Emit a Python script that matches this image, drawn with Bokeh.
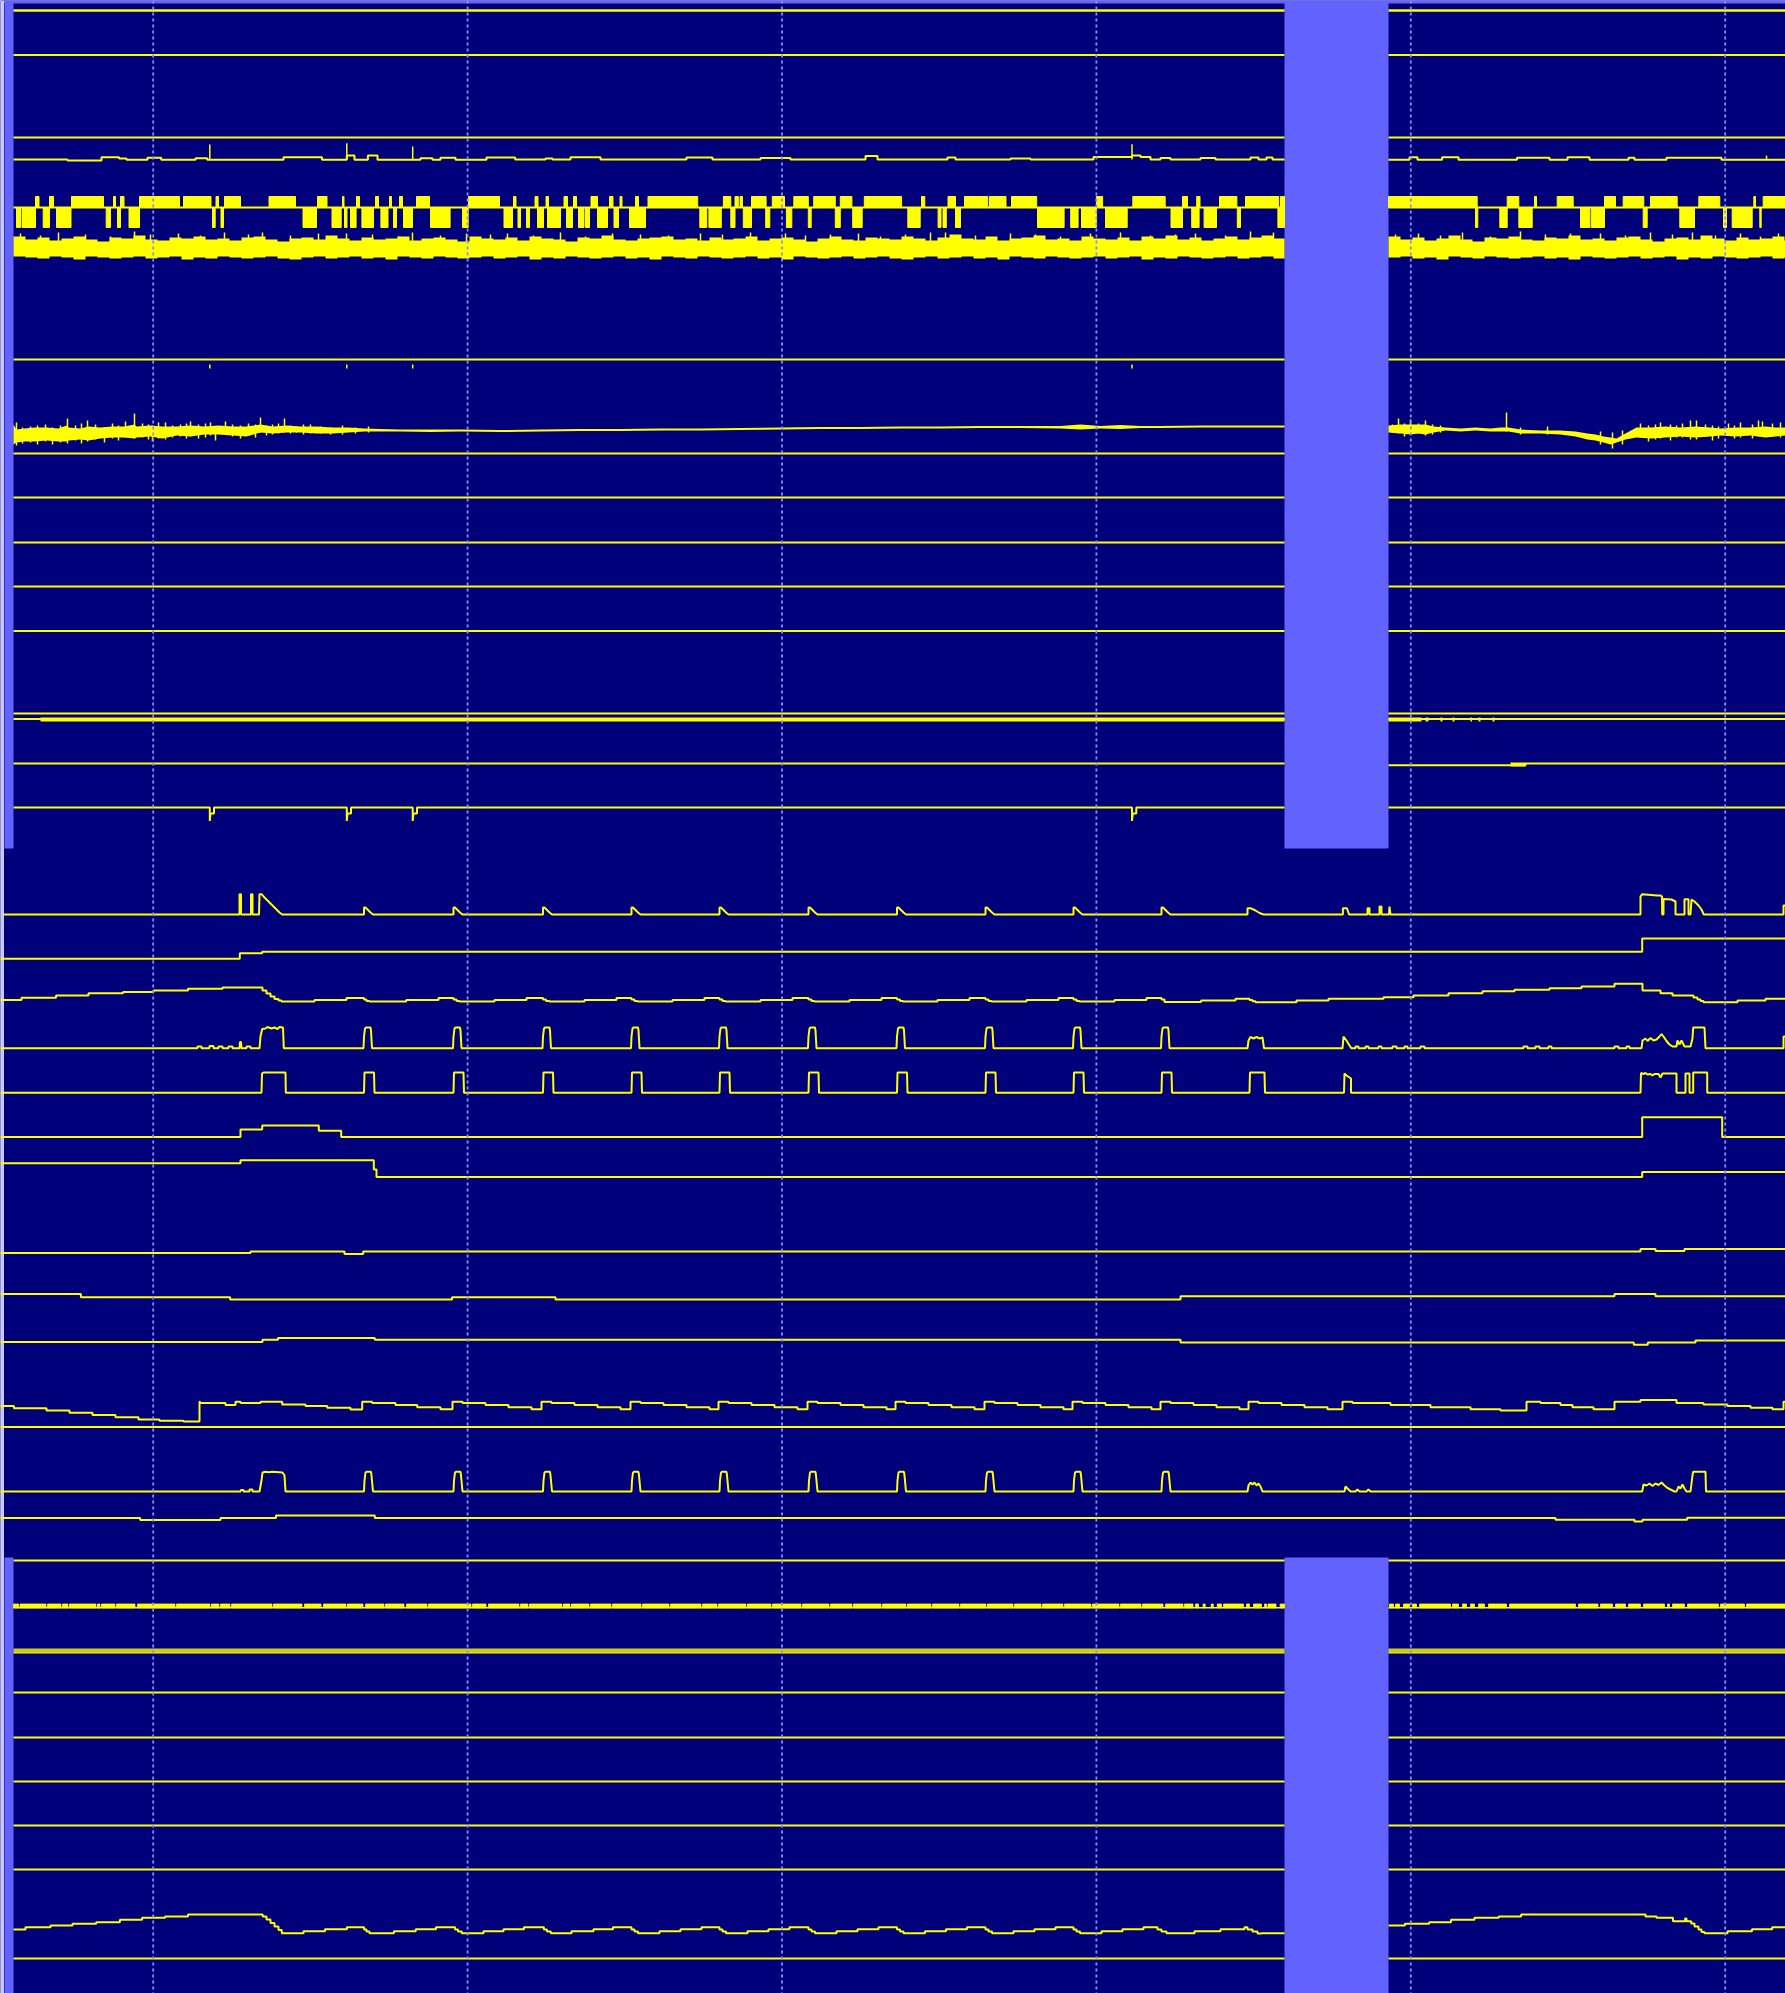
import numpy as np
from bokeh.plotting import figure
from bokeh.models import Range1d, Span
from bokeh.embed import file_html
from bokeh.resources import INLINE

NAVY = "#00007b"
YELLOW = "#ffff00"
GAPC = "#6262ff"
EDGEC = "#c8c8ff"
GRIDC = "#8c8cff"

# ---------------- time axis (s) ----------------
grid_t = [152.7, 467.1, 781.5, 1095.9, 1410.3, 1724.7]
nodata_spans = [(4, 13), (1284, 1388)]          # recording gaps (top & bottom groups)
seg_top = [(13, 1284), (1388, 1785)]             # valid data segments (top & bottom groups)

# ---------------- top group ----------------
top_flat_levels = [10, 54.5, 137, 359, 453, 497, 542, 586, 630.5, 713]

ch4_a = [(13, 159), (67, 160), (101, 156.7), (118.6, 158), (126, 159.3), (147, 157.3), (160.7, 159.3),
         (195, 157.7), (206.7, 159.3), (283, 156.7), (321.5, 159.3), (346.3, 155), (354, 159.3),
         (367.4, 155), (377, 159.3), (420, 157.7), (432, 159.3), (440, 157.3), (455, 159.3), (486, 157),
         (514.7, 159), (545, 158), (552, 159), (570, 156.7), (600, 159), (686, 157), (712, 159),
         (760, 157.5), (790, 159), (865, 155.5), (877, 159), (947, 157), (955, 159), (1010, 158),
         (1030, 159), (1093, 156.5), (1131.5, 155), (1140, 156.5), (1150, 159), (1160, 157.5),
         (1170, 159), (1200, 157.5), (1215, 159), (1250, 157), (1258, 159), (1266, 157), (1272, 159)]
ch4_b = [(1388, 159.3), (1409, 156.7), (1417, 159.3), (1441.6, 156.7), (1458, 159.3), (1516.5, 157.3),
         (1549, 159.3), (1567, 156.7), (1589, 159.3), (1628, 157.3), (1634, 159.3), (1666, 157.3),
         (1721, 159.3)]
ch4_spikes_t = [209.3, 346.3, 412.2, 1131.5, 1766]
ch4_spikes_peak = [144, 142.7, 146, 143.7, 155]

ch5_mid = 207
ch5_high = 196
ch5_low = 227
ch5_up_blocks = [(35, 38.5), (49, 53), (71, 103), (113, 115), (120, 123.5), (139, 179), (183, 210.5),
                 (215.5, 218), (224, 240), (268.5, 295), (317, 326.5), (342, 343.5), (356, 359), (375, 378),
                 (389, 391), (399, 402), (416, 429), (468, 499), (513, 515.5), (534.5, 537.5), (545.5, 548),
                 (563.5, 567), (573, 576), (590.5, 597), (609, 612.5), (619.5, 621.5), (635, 638),
                 (647.5, 697.2), (722.9, 730.3), (734.5, 737.8), (739.5, 742), (751, 765.6), (771.8, 784),
                 (793.3, 807.8), (813.2, 834.8), (839.8, 851.4), (863.8, 901.1), (921, 924.3), (947.5, 955),
                 (964, 987.3), (989, 1005.5), (1011, 1036.2), (1095.9, 1102.1), (1132.3, 1164.7),
                 (1182, 1187), (1196.2, 1199.5), (1219, 1236.4), (1245, 1278.2), (1280, 1284),
                 (1388, 1476.7), (1506.7, 1518.3), (1534, 1536), (1556.7, 1572.7), (1604, 1615),
                 (1622.7, 1643.3), (1650, 1676.7), (1698.3, 1719.3), (1753.3, 1755), (1762.7, 1785)]
ch5_down_blocks = [(16, 20), (21.5, 35), (42.7, 49), (56, 70.5), (105.7, 110), (117, 120), (128.5, 139),
                   (212, 214.7), (220.5, 223), (302.5, 316), (331.5, 340.7), (344, 346.5), (350, 355.6),
                   (361.4, 373), (380.4, 387.5), (393, 396), (403, 412), (430, 449.6), (462, 467.7),
                   (503.5, 512), (517.5, 520), (526, 529), (537, 543), (547, 560), (566, 572), (578, 583.5),
                   (585, 589), (597, 607), (613.5, 618), (629, 645), (699.3, 706.3), (708.4, 720.8),
                   (730.3, 734.5), (742.8, 751), (765.2, 769.3), (785.9, 791.3), (807.8, 810.7),
                   (834.8, 839.8), (852.2, 861.7), (907.3, 919.7), (937.6, 940.5), (942.5, 945.8),
                   (955, 960), (1037, 1063.6), (1070.2, 1077.6), (1081, 1095.9), (1105, 1126.7),
                   (1170.5, 1182), (1191.2, 1198.6), (1203.6, 1216), (1236.8, 1240), (1277.4, 1284),
                   (1475, 1477.3), (1499.3, 1506.7), (1518.3, 1531.7), (1580, 1589.3), (1590.7, 1604),
                   (1642.7, 1646.7), (1679.3, 1694), (1723, 1726), (1731.7, 1751.7), (1759.3, 1760.7)]

ch6_dt = 12
ch6_top_a = [236, 239, 237, 240, 238, 236, 239, 241, 237, 238, 235, 239, 240, 237, 238, 236, 239, 238, 240, 237,
             236, 239, 241, 238, 237, 239, 235, 238, 240, 237, 239, 238, 236, 240, 238, 237, 239, 241, 236, 238,
             239, 237, 240, 236, 238, 239, 241, 237, 238, 235, 239, 240, 238, 237, 236, 239, 238, 240, 237, 239,
             238, 236, 240, 238, 237, 239, 241, 238, 236, 239, 240, 237, 238, 239, 236, 238, 240, 237, 234, 238,
             239, 236, 240, 238, 237, 235, 239, 238, 240, 236, 238, 239, 237, 240, 236, 238, 235, 239, 237, 240,
             238, 236, 239, 237, 235, 238]
ch6_bot_a = [256, 257, 258, 256, 257, 259, 256, 257, 258, 257, 256, 258, 257, 256, 259, 257, 258, 256, 257, 258,
             257, 256, 258, 259, 257, 256, 258, 257, 256, 258, 257, 259, 256, 257, 258, 256, 257, 258, 257, 256,
             258, 257, 256, 259, 257, 258, 256, 257, 258, 257, 256, 258, 257, 259, 256, 257, 258, 256, 257, 258,
             257, 256, 258, 257, 259, 256, 257, 258, 257, 256, 258, 257, 256, 258, 259, 257, 256, 258, 257, 256,
             258, 257, 259, 256, 257, 258, 256, 257, 258, 257, 256, 258, 257, 256, 259, 257, 258, 256, 257, 258,
             257, 256, 258, 257, 256, 258]
ch6_top_b = [236, 239, 237, 240, 238, 235, 239, 241, 237, 238, 236, 239, 240, 237, 238, 235, 239, 238, 240, 237,
             236, 239, 241, 238, 237, 239, 235, 238, 240, 237, 239, 238, 236, 240]
ch6_bot_b = [257, 256, 258, 257, 259, 256, 257, 258, 256, 257, 258, 257, 256, 258, 257, 259, 256, 257, 258, 257,
             256, 258, 257, 256, 259, 257, 258, 256, 257, 258, 257, 256, 258, 257]
ch6_spikes_t = [20, 40, 58, 85, 110, 134, 150, 178, 200, 224, 248, 262, 290, 318, 346, 372, 398, 412, 440, 466,
                490, 507, 533, 560, 585, 612, 640, 668, 700, 722, 750, 785, 805, 830, 858, 880, 905, 930, 945, 975,
                1010, 1035, 1060, 1090, 1120, 1150, 1175, 1195, 1225, 1250, 1273,
                1395, 1418, 1440, 1462, 1490, 1520, 1545, 1570, 1600, 1625, 1650, 1672, 1692, 1715, 1740, 1760, 1778]
ch6_spikes_peak = [233, 235, 232, 234, 236, 231, 234, 233, 235, 232, 234, 232, 235, 233, 233, 234, 236, 232, 235, 233,
                   234, 233, 235, 232, 236, 233, 234, 235, 233, 234, 232, 233, 235, 234, 233, 236, 234, 232, 232, 235,
                   233, 234, 236, 233, 232, 235, 234, 233, 235, 231, 232,
                   234, 233, 235, 232, 236, 231, 234, 233, 233, 235, 232, 234, 232, 235, 233, 236, 233]

ch8_level = 364
ch8_ticks_t = [209.3, 346.3, 412.2, 1131.5]

ch9_t_a = [13, 16, 24, 34, 46, 58, 66, 68, 80, 88, 100, 112, 124, 134, 136, 150, 162, 176, 190, 204,
           218, 232, 246, 260, 272, 286, 300, 316, 332, 348, 364, 380, 400, 430, 460, 500, 540, 580, 620, 660,
           700, 740, 780, 820, 860, 900, 940, 980, 1020, 1060, 1080, 1100, 1120, 1140, 1160, 1200, 1240, 1284]
ch9_hi_a = [424, 429, 428, 427, 427, 428, 425, 427, 428, 426, 427, 426, 426, 424, 426, 425, 426, 426, 425, 426,
            425, 426, 426, 424, 426, 425, 426, 426, 427, 427, 428, 428.5, 429, 429, 429, 429.5, 429, 428.5, 428.5, 428,
            428, 427.5, 427, 426.5, 426.5, 426, 426, 425.5, 425.5, 425.5, 424, 425.5, 424.5, 425.5, 425.5, 425, 425, 425]
ch9_lo_a = [444, 442, 441, 441, 440, 441, 441, 440, 439, 440, 438, 437, 437, 438, 437, 436, 438, 435, 436, 434,
            434, 435, 436, 432, 433, 432, 432, 433, 433, 432, 431, 431, 431, 431.5, 431, 431.5, 431, 430.5, 430.5, 430,
            430, 429.5, 429, 428.5, 428.5, 428, 428, 427.5, 427.5, 428, 429, 428, 428.5, 427.5, 427.5, 427, 427, 427]
ch9_t_b = [1388, 1400, 1410, 1418, 1425, 1433, 1445, 1460, 1475, 1490, 1500, 1506, 1508, 1520, 1540, 1560, 1575,
           1587, 1595, 1603, 1610, 1616, 1625, 1636, 1650, 1665, 1680, 1695, 1710, 1720, 1735, 1750, 1765, 1775, 1785]
ch9_hi_b = [425, 424, 424, 424, 424, 426, 427, 428, 427, 428, 427, 427, 427, 429, 430, 430, 431, 433, 434, 436,
            437, 438, 433, 427, 427, 426, 427, 426, 427, 428, 427, 427, 426, 427, 427]
ch9_lo_b = [432, 433, 434, 433, 434, 432, 430, 431, 430, 431, 431, 431, 431, 433, 433, 434, 436, 439, 440, 442,
            444, 442, 439, 437, 438, 437, 436, 437, 436, 435, 436, 435, 437, 436, 435]
ch9_spikes_t = [16, 22, 30, 37, 45, 52, 60, 67, 75, 81, 87, 95, 104, 112, 118, 125, 134, 142, 148, 152,
                158, 165, 172, 180, 186, 190, 198, 205, 210, 215, 225, 232, 240, 248, 255, 260, 266, 272, 278, 284,
                290, 296, 303, 310, 320, 330, 342, 355, 368,
                1392, 1398, 1404, 1410, 1418, 1425, 1432, 1440, 1506, 1520, 1547, 1600, 1612, 1622, 1640, 1648, 1655,
                1660, 1670, 1676, 1682, 1690, 1696, 1705, 1712, 1718, 1728, 1734, 1740, 1752, 1758, 1762, 1772, 1780]
ch9_spikes_hi = [422, 427, 426, 425, 424, 427, 425, 418, 425, 423, 420, 424, 427, 423, 425, 421, 413, 423, 424, 425,
                 422, 422, 425, 424, 423, 421, 424, 423, 422, 426, 421, 424, 425, 423, 424, 417, 425, 424, 423, 418,
                 425, 426, 424, 424, 426, 427, 425, 427, 426,
                 424, 418, 423, 419, 423, 420, 424, 425, 412, 427, 426, 431, 432, 430, 423, 425, 424,
                 422, 424, 425, 423, 420, 420, 424, 425, 426, 423, 425, 422, 424, 420, 421, 423, 422]
ch9_spikes_lo = [445, 443, 442, 444, 441, 444, 442, 443, 440, 443, 441, 439, 442, 438, 440, 437, 438, 437, 439, 441,
                 438, 439, 437, 436, 438, 436, 438, 437, 435, 440, 434, 436, 438, 435, 437, 432, 435, 434, 433, 432,
                 433, 432, 434, 433, 433, 434, 434, 433, 432,
                 432, 433, 436, 434, 433, 435, 434, 432, 431, 434, 434, 444, 448, 444, 437, 441, 439,
                 438, 440, 437, 437, 439, 439, 436, 440, 438, 435, 438, 437, 438, 436, 435, 436, 437]

ch16_level = 719
ch16_dense = [(40, 1284), (1388, 1421), (1425, 1428), (1440, 1442), (1452, 1454), (1470, 1471.5),
              (1478, 1480), (1492, 1494)]
ch17_a = [(13, 763)]
ch17_b = [(1388, 764.7), (1525, 763)]
ch17_dense = [(1510, 1525)]
ch18_pts = [(13, 807), (209.3, 807), (209.3, 820.5), (210, 813), (213.5, 813), (213.5, 807),
            (346.3, 807), (346.3, 820.5), (347, 813), (350.5, 813), (350.5, 807),
            (412.2, 807), (412.2, 820.5), (413, 813), (416.5, 813), (416.5, 807),
            (1131.5, 807), (1131.5, 820.5), (1132.3, 813), (1135.8, 813), (1135.8, 807), (1284, 807)]

# ---------------- middle group ----------------
pulse_t = [363.5, 453, 542.5, 631, 719, 808, 896.5, 985, 1073, 1161]

chA_head = [(3, 914), (239, 914), (239, 893.7), (240.5, 893.7), (240.5, 914), (250.5, 914), (250.5, 893.7),
            (252, 893.7), (252, 914), (258.5, 914), (259, 893.7), (261, 893.7), (264, 897), (268, 901),
            (272, 905), (276, 909), (279, 912), (281.7, 914)]
chA_bump = [(0, 914), (0, 907), (1.5, 907), (4, 909.5), (6.5, 912), (9, 914)]
chA_tail = [(1247, 914), (1247, 907.7), (1250, 907.7), (1255, 910), (1259, 912.5), (1263, 914),
            (1342.4, 914), (1342.4, 907.7), (1346.5, 907.7), (1348.5, 914), (1367, 914), (1367, 907.7),
            (1369, 907.7), (1369, 914), (1379, 914), (1379, 906), (1381, 906), (1381, 914), (1388.5, 914),
            (1389, 906), (1390, 914), (1640, 914), (1640, 896), (1641.7, 893.7), (1656.7, 895), (1660, 895),
            (1661.5, 896), (1661.7, 914), (1663, 914), (1663, 898.5), (1671, 899), (1675, 901), (1675, 914),
            (1684, 914), (1684, 898.8), (1688, 898.8), (1688, 914), (1690, 914), (1691, 899), (1694, 901),
            (1698, 905), (1701, 909), (1703.3, 914), (1783, 914), (1783, 905), (1785, 905)]

chB = [(0, 958.3), (239.3, 952.8), (261.7, 951.2), (1641.7, 938.1)]

chC = [(0, 999.5), (21, 997.2), (55.5, 995), (88, 992.8), (122.5, 991.4), (153, 990.1), (187.5, 988.3),
       (222, 987), (262, 990), (266, 993), (270, 996), (274, 998.5), (278, 1000), (281, 1001), (314, 999.5),
       (346, 997.5),
       (363.5, 999), (366, 1000.5), (369, 1001), (405.7, 999.5), (438, 997.5),
       (453, 999), (456, 1000.5), (459, 1001), (494, 999.5), (526, 997.5),
       (542.5, 999), (545.5, 1000.5), (549, 1001), (584, 999.5), (616, 997.5),
       (631, 999), (634, 1000.5), (637, 1001), (672, 999.5), (704, 997.5),
       (719, 999), (722, 1000.5), (725, 1001), (760, 999.5), (792, 997.5),
       (808, 999), (811, 1000.5), (814, 1001), (849, 999.5), (881, 997.5),
       (896.5, 999), (899.5, 1000.5), (902.5, 1001), (937, 999.5), (969, 997.5),
       (985, 999), (988, 1000.5), (991, 1001), (1026, 999.5), (1058, 997.5),
       (1073, 999), (1076, 1000.5), (1079, 1001), (1114, 999.5), (1146, 997.5),
       (1161, 999), (1164, 1001.5), (1200.6, 1000), (1235, 998.3),
       (1249, 999.5), (1252, 1000.8), (1255, 1001.7), (1296, 1000), (1328, 998.3), (1383, 996.7),
       (1413, 995), (1448, 992.7), (1482, 990.7), (1514, 989.3), (1549, 987.7), (1581, 986), (1614, 983.3),
       (1642, 990), (1660, 992.7), (1672, 995), (1693, 997), (1697, 999), (1700, 1000.5), (1703, 1001.7),
       (1737, 1000), (1765, 998.3)]

chD_head = [(0, 1047.8), (197, 1047.8), (197, 1046), (201, 1046), (201, 1047.8), (209, 1047.8), (209, 1045.5),
            (213, 1045.5), (213, 1047.8), (218, 1047.8), (218, 1046), (222, 1046), (222, 1047.8), (228, 1047.8),
            (228, 1046), (232, 1046), (232, 1047.8), (239, 1047.8), (239.5, 1041.5), (240.5, 1041.5),
            (241, 1047.8), (246, 1047.8), (246, 1046), (250, 1046), (250, 1047.8), (259, 1047.8), (260, 1036),
            (261.7, 1028.5), (265, 1028), (267, 1026.5), (271, 1028), (274, 1027), (277, 1028.5), (279, 1026.5),
            (282.5, 1027), (283.3, 1047.8)]
chD_pulse = [(-0.5, 1047.8), (0, 1036), (1, 1028), (2, 1027), (6.5, 1027), (7, 1030), (8, 1047.8)]
chD_tail = [(1247, 1047.8), (1248, 1040), (1250, 1036.5), (1253, 1038), (1256, 1036.5), (1259, 1038),
            (1262, 1037), (1263.5, 1047.8), (1342, 1047.8), (1343, 1036), (1346, 1040), (1349, 1045),
            (1351, 1047.8), (1355, 1047.8), (1355, 1046), (1358, 1046), (1358, 1047.8), (1365, 1047.8),
            (1365, 1046), (1368, 1046), (1368, 1047.8), (1378, 1047.8), (1378, 1046), (1381, 1046),
            (1381, 1047.8), (1392, 1047.8), (1392, 1046), (1396, 1046), (1396, 1047.8), (1404, 1047.8),
            (1404, 1046), (1407, 1046), (1407, 1047.8), (1420, 1047.8), (1420, 1046), (1424, 1046),
            (1424, 1047.8), (1523, 1047.8), (1523, 1046), (1527, 1046), (1527, 1047.8), (1535, 1047.8),
            (1535, 1046), (1539, 1046), (1539, 1047.8), (1548, 1047.8), (1548, 1046), (1551, 1046),
            (1551, 1047.8), (1614, 1047.8), (1614, 1046), (1618, 1046), (1618, 1047.8), (1626, 1047.8),
            (1626, 1046), (1629, 1046), (1629, 1047.8), (1641, 1047.8), (1642, 1040), (1645, 1038),
            (1647, 1040.5), (1650, 1037.5), (1653, 1040), (1656, 1039), (1659, 1036), (1661, 1033.5),
            (1663, 1036), (1666, 1040.5), (1669, 1044), (1672, 1046), (1676, 1046), (1677, 1040),
            (1679, 1044), (1681, 1040), (1684, 1046), (1690, 1046), (1692, 1038), (1692.7, 1027),
            (1704, 1027), (1705, 1047.8), (1783, 1047.8), (1783, 1036), (1785, 1036)]

chE_head = [(0, 1092.2), (261, 1092.2), (261.5, 1073), (263, 1072), (285, 1072), (285.3, 1092.2)]
chE_pulse = [(0, 1092.2), (0.5, 1072), (10, 1072), (10.5, 1092.2)]
chE_tail = [(1249, 1092.2), (1249.5, 1072), (1264, 1072), (1264.5, 1092.2), (1343.5, 1092.2), (1344, 1073),
            (1346, 1075), (1349, 1077), (1350.5, 1078), (1350.5, 1092.2), (1640, 1092.2), (1640.5, 1072.5),
            (1643, 1073.5), (1645, 1072.5), (1647, 1074), (1650, 1073.5), (1652, 1075), (1654, 1073.5),
            (1658, 1073.5), (1660, 1077), (1662, 1073), (1676, 1073), (1676, 1092.2), (1685, 1092.2),
            (1685, 1073), (1689, 1073), (1689, 1092.2), (1692.7, 1092.2), (1692.7, 1072), (1706.7, 1072),
            (1706.7, 1092.2), (1785, 1092.2)]

chF = [(0, 1136.5), (240, 1128.9), (261.7, 1125.1), (318.3, 1130.2), (340.7, 1136.5), (1641.7, 1116.7),
       (1721.7, 1136.5)]
chG = [(0, 1162.7), (240, 1159.7), (373.3, 1169), (376, 1176.6), (1641.7, 1171.5)]
chH = [(0, 1252.6), (250, 1250.9), (344, 1253.5), (362.7, 1250.9), (1640, 1248.4), (1655, 1250.5),
       (1684, 1248.4)]
chI = [(0, 1293.6), (80.4, 1296.7), (229.6, 1299), (451.6, 1296.7), (555, 1299), (1180, 1295.7),
       (1614, 1293.6), (1655, 1295.7)]
chJ = [(0, 1341.5), (262, 1339.2), (277.5, 1337.4), (374.3, 1339.2), (1180, 1342.1), (1633.3, 1344.2),
       (1647.3, 1342.1), (1695, 1340)]
chK = [(0, 1405.5), (13.4, 1407.7), (46, 1410), (69, 1412.2), (92, 1414.4), (115, 1416.7), (138, 1418.9),
       (159, 1420.3), (183, 1421.1), (199, 1401.2), (199.5, 1402.4), (225, 1404.6), (235, 1401.2),
       (240, 1402.4), (260, 1401.2), (281.7, 1403.9), (305, 1405.6), (326.7, 1407.3), (350, 1409),
       (361.7, 1401.2), (371.7, 1402.4), (395, 1404.6), (416.7, 1406.7), (440, 1408.8),
       (452, 1401.2), (462, 1402.4), (485, 1404.6), (508, 1406.7), (531, 1408.8),
       (541, 1401.2), (551, 1402.4), (574, 1404.6), (597, 1406.7), (620, 1408.8),
       (630, 1401.2), (640, 1402.4), (663, 1404.6), (686, 1406.7), (709, 1408.8),
       (718, 1401.2), (728, 1402.4), (751, 1404.6), (774, 1406.7), (797, 1408.8),
       (807, 1401.2), (817, 1402.4), (840, 1404.6), (863, 1406.7), (886, 1408.8),
       (895, 1401.2), (905, 1402.4), (928, 1404.6), (951, 1406.7), (974, 1408.8),
       (984, 1401.2), (994, 1402.4), (1017, 1404.6), (1040, 1406.7), (1063, 1408.8),
       (1072, 1401.2), (1082, 1402.4), (1105, 1404.6), (1128, 1406.7), (1151, 1408.8),
       (1160, 1401.2), (1170, 1402.4), (1193, 1404.6), (1216, 1406.7), (1239, 1408.8),
       (1248, 1401.2), (1258, 1402.4), (1281, 1404.6), (1304, 1406.7), (1327, 1408.8),
       (1342, 1401.2), (1352, 1402.4), (1390, 1404.6), (1430, 1406.7), (1470, 1408.8), (1500, 1410),
       (1526, 1401.2), (1540, 1402.4), (1560, 1404.6), (1572, 1406.7), (1593, 1408.8),
       (1614, 1401.2), (1640, 1399.5), (1676, 1402.4), (1703, 1403.9), (1727, 1405.6), (1750, 1407.3),
       (1772, 1408.8), (1783, 1401.2)]
chL = [(0, 1426.5)]

chM_head = [(0, 1491), (240, 1491), (240.5, 1489.5), (243, 1489.5), (243, 1491), (249, 1491), (249, 1489),
            (252, 1489), (252, 1491), (259, 1491), (261, 1480), (262, 1472), (265, 1471.3), (268, 1471.8),
            (272, 1471.3), (282, 1472), (284, 1475), (285, 1491)]
chM_pulse = [(0, 1491), (0.5, 1480), (1.5, 1472), (2.5, 1471.3), (7, 1471.3), (7.5, 1475), (9, 1491)]
chM_tail = [(1247, 1491), (1248, 1485), (1250, 1482), (1252, 1484), (1254, 1482), (1256, 1485), (1258, 1483),
            (1260, 1486), (1262, 1491), (1344, 1491), (1345, 1486), (1347, 1488), (1350, 1491), (1355, 1491),
            (1357, 1489), (1359, 1491), (1366, 1491), (1368, 1489), (1370, 1491), (1641.7, 1491),
            (1643, 1484), (1646, 1485), (1649, 1483), (1652, 1485.5), (1655, 1483), (1658, 1484.5),
            (1661, 1482), (1664, 1485), (1667, 1487.5), (1670, 1489), (1674, 1491), (1676, 1491),
            (1678, 1486), (1680, 1488), (1682, 1484), (1684, 1488), (1686, 1491), (1690, 1491), (1692, 1475),
            (1692.7, 1471.3), (1705, 1471.3), (1705.5, 1491), (1785, 1491)]
chN = [(0, 1517.4), (139.7, 1519.6), (220, 1517.4), (275.5, 1515.1), (374.3, 1517.4), (1555, 1519.3),
       (1634, 1521), (1642, 1519.3), (1686.7, 1517.3)]

# ---------------- bottom group ----------------
bot_flat_levels = [1560, 1692, 1737, 1781, 1825, 1869, 1958]
bus1_base = 1607.3
bus1_top = 1603.5
bus1_blocks = [(13, 18), (19.5, 45.5), (47, 60.5), (62, 67.5), (69, 95.5), (97, 99.5), (101, 114.5), (116, 134.5),
               (137, 174.5), (176, 209.5), (211, 218.5), (220, 229.5), (231, 271.5), (273, 301.5), (304, 320.5),
               (323, 345.5), (347, 362.5), (365, 383.5), (385, 403.5), (406, 426.5), (428, 470.5), (472, 485.5),
               (488, 518.5), (520, 527.5), (529, 561.5), (563, 569.5), (571, 588.5), (590, 610.5), (612, 640.5),
               (642, 668.5), (670, 700.5), (702, 716.5), (718, 745.5), (747, 770.5), (772, 800.5), (802, 828.5),
               (830, 851.5), (853, 880.5), (882, 905.5), (907, 930.5), (932, 958.5), (960, 985.5), (987, 1012.5),
               (1014, 1040.5), (1042, 1062.5), (1064, 1090.5), (1092, 1118.5), (1120, 1140.5), (1142, 1162.5),
               (1165, 1182.5), (1184, 1192.5), (1195, 1198), (1202.6, 1204.7), (1210.7, 1212.8),
               (1216.8, 1221), (1223, 1243), (1246, 1249), (1253, 1261), (1264, 1266), (1267.5, 1275.5),
               (1279.6, 1284),
               (1389, 1393), (1395, 1399), (1403, 1409), (1412, 1416), (1419, 1450), (1452, 1458), (1462, 1466),
               (1470, 1474), (1478, 1484), (1488, 1506), (1509, 1575), (1578, 1597.5), (1600, 1612),
               (1615, 1625), (1628, 1640), (1643, 1664), (1667, 1669), (1672, 1684), (1687, 1718), (1720, 1744),
               (1746, 1785)]
bus2_top = 1648
bus2_base = 1652.5

chW_a = [(13, 1929), (25, 1926.7), (50, 1925), (72, 1923.3), (95.7, 1921.7), (119.4, 1919.3), (141.6, 1917.3),
         (164.6, 1916), (187.5, 1914), (262.2, 1916), (266, 1919), (270, 1922.5), (274, 1926), (278, 1929.5),
         (281.3, 1932.7), (303, 1930.7), (324.5, 1928.7), (346.4, 1926.7),
         (363.6, 1929), (366, 1931), (369, 1932.7), (393.4, 1930.7), (415.2, 1928.7), (435.5, 1926.7),
         (454.6, 1929), (457.5, 1931), (461.2, 1932.7), (483, 1930.7), (503, 1928.7), (523.5, 1926.7),
         (543.4, 1929), (546.5, 1931), (550.3, 1932.7), (571, 1930.7), (593, 1928.7), (612.5, 1926.7),
         (631, 1929), (634, 1931), (637.5, 1932.7), (659, 1930.7), (680, 1928.7), (701, 1926.7),
         (719, 1929), (722, 1931), (725.5, 1932.7), (747, 1930.7), (768, 1928.7), (789, 1926.7),
         (808, 1929), (811, 1931), (814.5, 1932.7), (836, 1930.7), (857, 1928.7), (878, 1926.7),
         (896.5, 1929), (899.5, 1931), (903, 1932.7), (924.5, 1930.7), (945.5, 1928.7), (966.5, 1926.7),
         (985, 1929), (988, 1931), (991.5, 1932.7), (1013, 1930.7), (1034, 1928.7), (1055, 1926.7),
         (1073, 1929), (1076, 1931), (1079.5, 1932.7), (1101, 1930.7), (1122, 1928.7), (1143, 1926.7),
         (1157, 1929), (1161, 1931), (1166, 1932.7), (1194, 1930.7), (1220, 1928.7), (1244, 1926.7),
         (1247, 1929), (1252, 1931), (1257, 1933), (1261, 1932.7)]
chW_b = [(1388, 1925), (1404.4, 1923.3), (1428.7, 1921.7), (1450.5, 1919.3), (1474, 1917.3), (1498.3, 1916),
         (1520.6, 1914), (1645, 1916), (1656, 1917.3), (1672.5, 1920.7), (1684.6, 1918), (1686, 1920.7),
         (1690.7, 1923), (1694, 1926), (1698, 1929), (1701, 1931.5), (1704, 1932.7), (1727, 1930.7),
         (1751.5, 1928.7), (1771.7, 1926.7)]

# ---------------- layout (screen geometry) ----------------
W, H = 1785, 1993
TOP_GROUP = (0, 848)
BOT_GROUP = (1557, 1993)

p = figure(width=W, height=H, x_range=Range1d(0, W), y_range=Range1d(H, 0),
           output_backend="svg", toolbar_location=None, x_axis_location=None, y_axis_location=None,
           min_border=0, background_fill_color=NAVY, border_fill_color=NAVY, outline_line_color=None)
p.grid.visible = False

# no-data shading
for (y0, y1) in (TOP_GROUP, BOT_GROUP):
    p.quad(left=[a for a, b in nodata_spans], right=[b for a, b in nodata_spans],
           top=[y0] * len(nodata_spans), bottom=[y1] * len(nodata_spans),
           fill_color=GAPC, line_color=None)
p.quad(left=[0], right=[W], top=[0], bottom=[3], fill_color=GAPC, line_color=None)
p.quad(left=[0], right=[3.5], top=[0], bottom=[H], fill_color=EDGEC, line_color=None)


def stairs(steps, t_end):
    xs, ys = [], []
    for i, (t, y) in enumerate(steps):
        t2 = steps[i + 1][0] if i + 1 < len(steps) else t_end
        xs += [t, t2]
        ys += [y, y]
    return xs, ys


def trace(xs, ys, w=2.0):
    p.line(xs, ys, line_color=YELLOW, line_width=w)


def poly(pts, w=2.0):
    trace([a for a, b in pts], [b for a, b in pts], w)


def with_pulses(head, shape, tail):
    pts = list(head)
    for t0 in pulse_t:
        pts += [(t0 + dt, y) for dt, y in shape]
    return pts + list(tail)


# ---- top group ----
for lvl in top_flat_levels:
    p.multi_line([[a, b] for a, b in seg_top], [[lvl, lvl] for _ in seg_top], line_color=YELLOW,
                 line_width=2.5 if lvl == top_flat_levels[0] else 2)
for steps, end in ((ch4_a, 1284), (ch4_b, 1785)):
    trace(*stairs(steps, end))
p.segment(x0=ch4_spikes_t, y0=[159] * len(ch4_spikes_t), x1=ch4_spikes_t, y1=ch4_spikes_peak,
          line_color=YELLOW, line_width=1.5)

p.multi_line([[a, b] for a, b in seg_top], [[ch5_mid, ch5_mid] for _ in seg_top], line_color=YELLOW, line_width=2)
p.quad(left=[a for a, b in ch5_up_blocks], right=[b for a, b in ch5_up_blocks],
       top=ch5_high, bottom=ch5_mid, fill_color=YELLOW, line_color=YELLOW, line_width=1)
p.quad(left=[a for a, b in ch5_down_blocks], right=[b for a, b in ch5_down_blocks],
       top=ch5_mid, bottom=ch5_low, fill_color=YELLOW, line_color=YELLOW, line_width=1)

for top, bot, (s, e) in ((ch6_top_a, ch6_bot_a, seg_top[0]), (ch6_top_b, ch6_bot_b, seg_top[1])):
    xs = list(np.arange(s, e, ch6_dt)[:len(top)]) + [e]
    p.varea_step(x=xs, y1=list(top) + [top[-1]], y2=list(bot) + [bot[-1]], step_mode="after",
                 fill_color=YELLOW)
p.segment(x0=ch6_spikes_t, y0=[242] * len(ch6_spikes_t), x1=ch6_spikes_t, y1=ch6_spikes_peak,
          line_color=YELLOW, line_width=1.5)

p.segment(x0=ch8_ticks_t, y0=[ch8_level] * 4, x1=ch8_ticks_t, y1=[ch8_level + 4] * 4,
          line_color=YELLOW, line_width=1.5)

p.varea(x=ch9_t_a, y1=ch9_hi_a, y2=ch9_lo_a, fill_color=YELLOW)
p.varea(x=ch9_t_b, y1=ch9_hi_b, y2=ch9_lo_b, fill_color=YELLOW)
p.segment(x0=ch9_spikes_t, y0=ch9_spikes_hi, x1=ch9_spikes_t, y1=ch9_spikes_lo, line_color=YELLOW,
          line_width=1.5)

p.multi_line([[13, 1284], [1388, 1785]], [[ch16_level - 0.5] * 2] * 2, line_color=YELLOW, line_width=2)
p.multi_line([[a, b] for a, b in ch16_dense], [[ch16_level] * 2 for _ in ch16_dense],
             line_color=YELLOW, line_width=4)
trace(*stairs(ch17_a, 1284))
trace(*stairs(ch17_b, 1785))
p.multi_line([[a, b] for a, b in ch17_dense], [[764] * 2 for _ in ch17_dense], line_color=YELLOW, line_width=4)
trace([a for a, b in ch18_pts], [b for a, b in ch18_pts])
trace([1388, 1785], [807, 807])

# ---- middle group ----
poly(with_pulses(chA_head, chA_bump, chA_tail))
trace(*stairs(chB, 1785))
trace(*stairs(chC, 1785))
poly(with_pulses(chD_head, chD_pulse, chD_tail))
poly(with_pulses(chE_head, chE_pulse, chE_tail))
for ch in (chF, chG, chH, chI, chJ, chK, chL, chN):
    trace(*stairs(ch, 1785))
poly(with_pulses(chM_head, chM_pulse, chM_tail))

# ---- bottom group ----
for lvl in bot_flat_levels:
    p.multi_line([[a, b] for a, b in seg_top], [[lvl, lvl] for _ in seg_top], line_color=YELLOW, line_width=2)
p.quad(left=[a for a, b in bus1_blocks], right=[b for a, b in bus1_blocks], top=bus1_top, bottom=bus1_base,
       fill_color=YELLOW, line_color=YELLOW, line_width=0.8)
p.multi_line([[a, b] for a, b in seg_top], [[bus1_base, bus1_base] for _ in seg_top], line_color=YELLOW,
             line_width=1.5)
p.quad(left=[a for a, b in seg_top], right=[b for a, b in seg_top], top=bus2_top, bottom=bus2_base,
       fill_color=YELLOW, fill_alpha=0.8, line_color=None)
p.multi_line([[a, b] for a, b in seg_top], [[bus2_base, bus2_base] for _ in seg_top], line_color=YELLOW,
             line_width=1.2)
trace(*stairs(chW_a, 1284))
trace(*stairs(chW_b, 1785))

# ---- time grid ----
for t in grid_t:
    p.add_layout(Span(location=t, dimension="height", line_color=GRIDC, line_width=1.8, line_dash="3 3"))

open("out.html", "w").write(file_html(p, INLINE))
